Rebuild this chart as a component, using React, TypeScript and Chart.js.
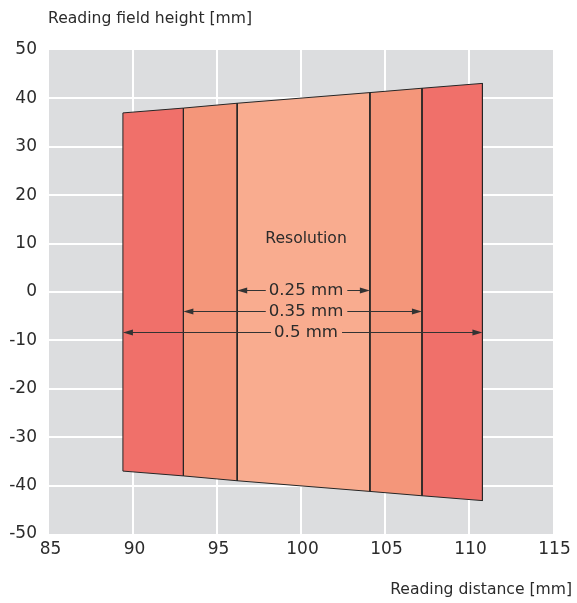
import { useEffect, useRef } from 'react';
import { Chart, registerables } from 'chart.js';

Chart.register(...registerables);

// Zone boundaries along the reading distance [mm]
const zoneEdges = [89.4, 93.0, 96.2, 104.1, 107.2, 110.8];
// Field height at each boundary [mm]
const topEdge = [37.0, 38.0, 39.0, 41.2, 42.1, 43.1];
const bottomEdge = [-37.0, -38.0, -39.0, -41.2, -42.1, -43.1];
const zoneColors = ['#F0706A', '#F4967A', '#F9AC8F', '#F4967A', '#F0706A'];

// Resolution ranges
const resolutionLabels = ['0.25 mm', '0.35 mm', '0.5 mm'];
const arrowFrom = [96.2, 93.0, 89.4];
const arrowTo = [104.1, 107.2, 110.8];
const arrowLevel = [0.5, -4.0, -8.3];
const resolutionTitle = 'Resolution';
const resolutionTitleLevel = 11;
const labelCenter = 100.3;

const xMin = 85;
const xMax = 115;
const xStep = 5;
const yMin = -50;
const yMax = 50;
const yStep = 10;

const yTitle = 'Reading field height [mm]';
const xTitle = 'Reading distance [mm]';

const FONT = '"DejaVu Sans", sans-serif';
const TEXT = '#2b2b2b';
const PLOT_BG = '#DCDDDF';
const INNER = zoneColors[2];

export default function App() {
  const ref = useRef<HTMLCanvasElement | null>(null);

  useEffect(() => {
    document.body.style.margin = '0';
    const canvas = ref.current;
    if (!canvas) return;

    const datasets = zoneColors.map((c, i) => ({
      type: 'scatter' as const,
      data: [
        { x: zoneEdges[i], y: topEdge[i] },
        { x: zoneEdges[i + 1], y: topEdge[i + 1] },
        { x: zoneEdges[i + 1], y: bottomEdge[i + 1] },
        { x: zoneEdges[i], y: bottomEdge[i] },
        { x: zoneEdges[i], y: topEdge[i] },
      ],
      showLine: true,
      fill: 'shape',
      backgroundColor: c,
      borderColor: '#262626',
      borderWidth: 1,
      pointRadius: 0,
      pointHoverRadius: 0,
      tension: 0,
    }));

    const bgPlugin = {
      id: 'plotBg',
      beforeDraw(chart: any) {
        const { ctx, chartArea: a } = chart;
        ctx.save();
        ctx.fillStyle = PLOT_BG;
        ctx.fillRect(a.left, a.top, a.right - a.left, a.bottom - a.top);
        ctx.restore();
      },
    };

    const annoPlugin = {
      id: 'annotations',
      afterDatasetsDraw(chart: any) {
        const { ctx } = chart;
        const xs = chart.scales.x;
        const ys = chart.scales.y;
        ctx.save();
        // Resolution title
        ctx.fillStyle = TEXT;
        ctx.font = `15.6px ${FONT}`;
        ctx.textAlign = 'center';
        ctx.textBaseline = 'middle';
        ctx.fillText(resolutionTitle, xs.getPixelForValue(labelCenter), ys.getPixelForValue(resolutionTitleLevel));

        resolutionLabels.forEach((label, i) => {
          const x0 = xs.getPixelForValue(arrowFrom[i]);
          const x1 = xs.getPixelForValue(arrowTo[i]);
          const y = Math.round(ys.getPixelForValue(arrowLevel[i])) + 0.5;
          ctx.strokeStyle = '#333';
          ctx.lineWidth = 1;
          ctx.beginPath();
          ctx.moveTo(x0 + 2, y);
          ctx.lineTo(x1 - 2, y);
          ctx.stroke();
          ctx.fillStyle = '#333';
          const ah = 10;
          const aw = 3;
          ctx.beginPath();
          ctx.moveTo(x0, y);
          ctx.lineTo(x0 + ah, y - aw);
          ctx.lineTo(x0 + ah, y + aw);
          ctx.closePath();
          ctx.fill();
          ctx.beginPath();
          ctx.moveTo(x1, y);
          ctx.lineTo(x1 - ah, y - aw);
          ctx.lineTo(x1 - ah, y + aw);
          ctx.closePath();
          ctx.fill();

          ctx.font = `16.6px ${FONT}`;
          const cx = xs.getPixelForValue(labelCenter);
          const w = ctx.measureText(label).width;
          ctx.fillStyle = INNER;
          ctx.fillRect(cx - w / 2 - 3, y - 4, w + 7, 8);
          ctx.fillStyle = TEXT;
          ctx.textAlign = 'center';
          ctx.textBaseline = 'middle';
          ctx.fillText(label, cx, y + 0.5);
        });

        ctx.restore();
      },
      afterDraw(chart: any) {
        const { ctx, chartArea: a } = chart;
        ctx.save();
        ctx.fillStyle = TEXT;
        ctx.font = `15.6px ${FONT}`;
        ctx.textBaseline = 'alphabetic';
        ctx.textAlign = 'left';
        ctx.fillText(yTitle, a.left - 1, 22.7);
        ctx.textAlign = 'right';
        ctx.fillText(xTitle, 572, 594);
        ctx.restore();
      },
    };

    const chart = new Chart(canvas, {
      type: 'scatter',
      data: { datasets: datasets as any },
      options: {
        animation: false,
        responsive: false,
        events: [],
        layout: { padding: { top: 50, left: 0, right: 24, bottom: 0 } },
        plugins: {
          legend: { display: false },
          tooltip: { enabled: false },
          title: { display: false },
        },
        scales: {
          x: {
            type: 'linear',
            min: xMin,
            max: xMax,
            border: { display: false },
            grid: {
              color: (c: any) =>
                c.tick && (c.tick.value === xMin || c.tick.value === xMax) ? 'rgba(0,0,0,0)' : '#ffffff',
              lineWidth: 2,
              drawTicks: false,
            },
            ticks: {
              stepSize: xStep,
              color: TEXT,
              font: { family: FONT, size: 17 },
              padding: 5,
              labelOffset: 1.5,
              maxRotation: 0,
              autoSkip: false,
            },
            afterFit(scale: any) {
              scale.height = 69;
            },
          },
          y: {
            type: 'linear',
            min: yMin,
            max: yMax,
            border: { display: false },
            grid: {
              color: (c: any) =>
                c.tick && (c.tick.value === yMin || c.tick.value === yMax) ? 'rgba(0,0,0,0)' : '#ffffff',
              lineWidth: 2,
              drawTicks: false,
            },
            ticks: {
              stepSize: yStep,
              color: TEXT,
              font: { family: FONT, size: 17 },
              padding: 12,
              autoSkip: false,
            },
            afterFit(scale: any) {
              scale.width = 49;
            },
          },
        },
      },
      plugins: [bgPlugin, annoPlugin],
    });

    return () => chart.destroy();
  }, []);

  return <canvas ref={ref} width={577} height={603} style={{ display: 'block' }} />;
}
